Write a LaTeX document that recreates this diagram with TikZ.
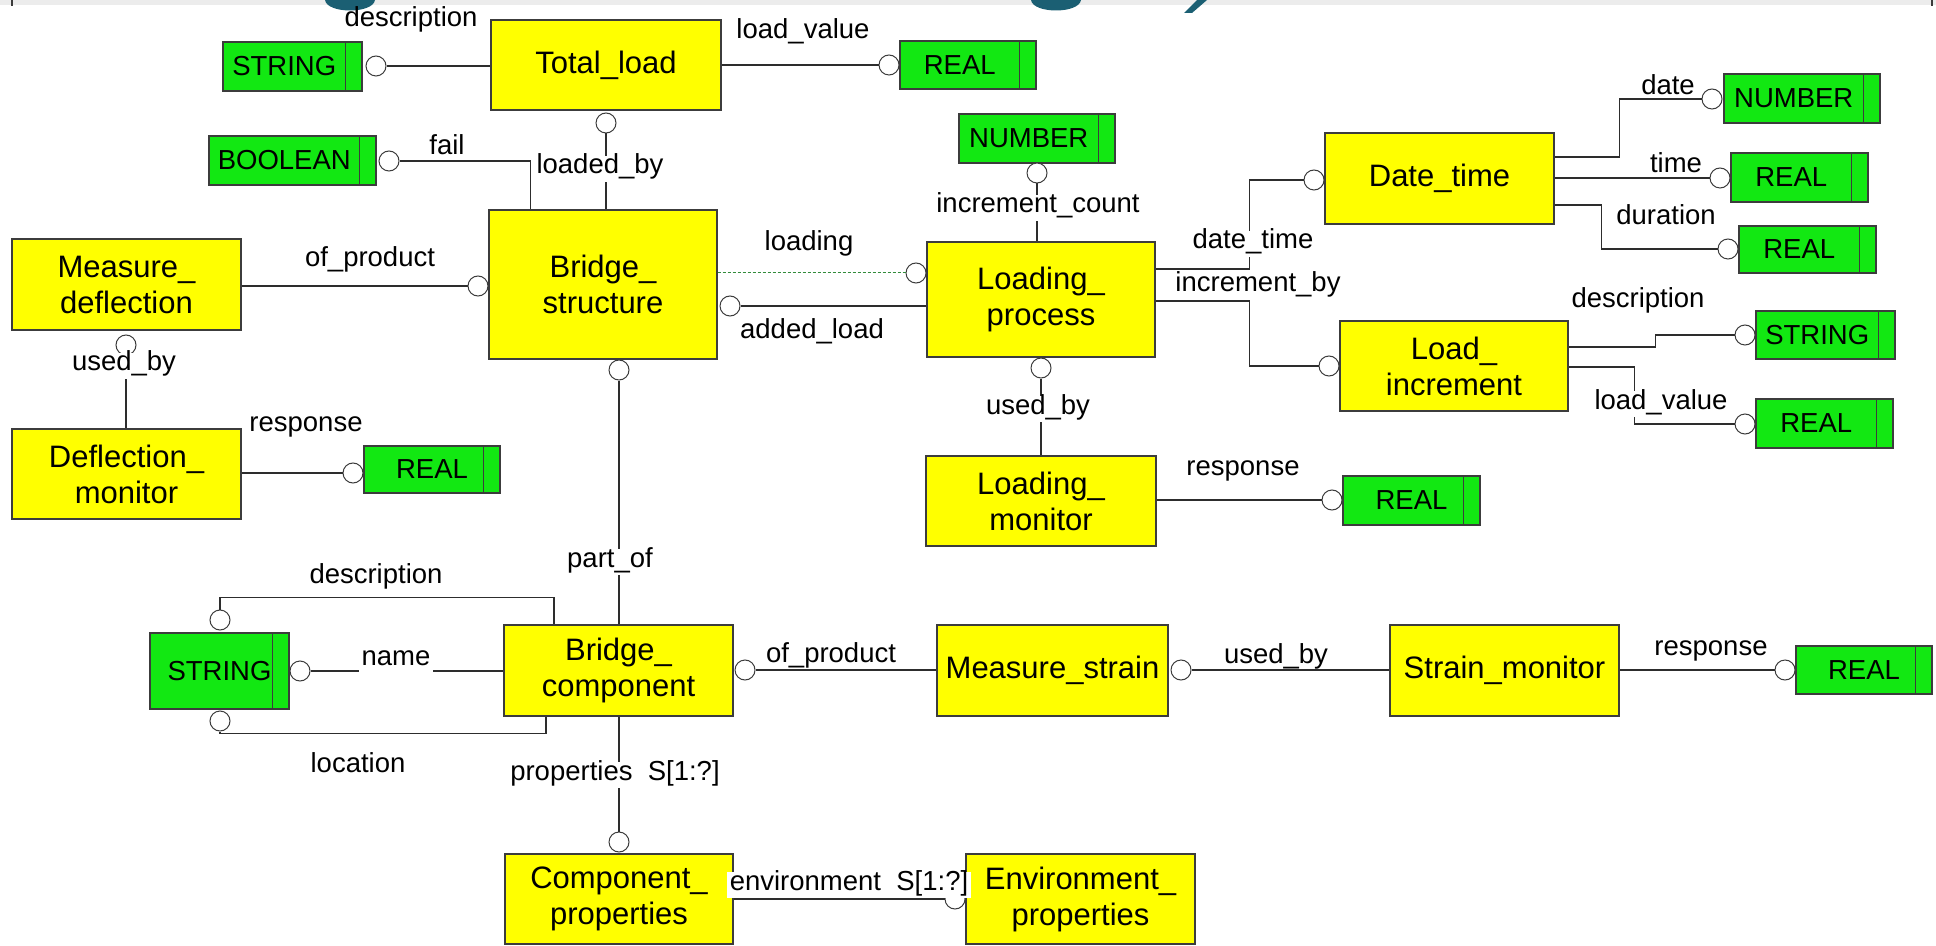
\documentclass[tikz,border=0pt]{standalone}
\usepackage{fontspec}
\setmainfont{Liberation Sans}
\usetikzlibrary{calc}

\definecolor{entfill}{RGB}{255,255,0}
\definecolor{typfill}{RGB}{18,232,18}
\definecolor{edge}{RGB}{60,60,60}
\definecolor{wire}{RGB}{45,45,45}
\definecolor{loadgreen}{RGB}{50,140,60}
\definecolor{band}{RGB}{236,236,236}
\definecolor{logoteal}{RGB}{27,95,115}

\newcommand\entfont{\fontsize{15.5pt}{18pt}\selectfont}
\newcommand\labfont{\fontsize{13.75pt}{16pt}\selectfont}
% shifts a type name into the part left of the divider
\newcommand\tlft[1]{\hspace*{-8.25pt}#1}

\begin{document}
\begin{tikzpicture}[x=0.5pt, y=-0.5pt,
  ent/.style={draw=edge, line width=0.7pt, fill=entfill, inner sep=0pt,
    minimum width=114.5pt, minimum height=45.5pt, align=center, font=\entfont},
  typ/.style={draw=edge, line width=0.7pt, fill=typfill, inner sep=0pt,
    minimum width=68.5pt, minimum height=24.5pt, font=\labfont,
    path picture={\draw[edge, line width=0.7pt]
      ([xshift=-8.25pt]path picture bounding box.north east) --
      ([xshift=-8.25pt]path picture bounding box.south east);}},
  ring/.style={circle, draw=edge, line width=0.5pt, fill=white,
    minimum size=10pt, inner sep=0pt},
  wirestyle/.style={draw=wire, line width=0.6pt},
  loadline/.style={draw=loadgreen, line width=0.5pt, dash pattern=on 1.5pt off 1pt},
  lbl/.style={font=\labfont, anchor=base, inner sep=0pt},
  lblcut/.style={lbl, fill=white, inner xsep=1.5pt, inner ysep=1.5pt,
    text height=0.75em, text depth=0.27em}]

\useasboundingbox (0,0) rectangle (1936,946);

% strip along the top edge
\fill[band] (0,0) rectangle (1936,5);
\fill[logoteal] (325,0) .. controls (327,14) and (373,14) .. (375,0) -- cycle;
\fill[logoteal] (1031,0) .. controls (1033,14) and (1079,14) .. (1081,0) -- cycle;
\fill[logoteal] (1197,0) -- (1207,0) -- (1192,13) -- (1184,13) -- cycle;
\draw[edge, line width=0.8pt] (12,0) -- (12,6);
\draw[edge, line width=0.8pt] (1932,0) -- (1932,6);

% entities
\node[ent, minimum width=115pt, minimum height=45pt] (tl) at (606,65) {Total\_load};
\node[ent, minimum width=114pt, minimum height=74.5pt] (bs) at (603,284.5) {Bridge\_\\structure};
\node[ent] (md) at (126.5,284.5) {Measure\_\\deflection};
\node[ent, minimum width=114pt, minimum height=57.5pt] (lp) at (1041,299.5) {Loading\_\\process};
\node[ent] (dt) at (1439.5,178.5) {Date\_time};
\node[ent, minimum width=114pt, minimum height=45pt] (li) at (1454,366) {Load\_\\increment};
\node[ent, minimum height=45pt] (dm) at (126.5,474) {Deflection\_\\monitor};
\node[ent, minimum width=115pt, minimum height=45pt] (lm) at (1041,501) {Loading\_\\monitor};
\node[ent] (bc) at (618.5,670.5) {Bridge\_\\component};
\node[ent, minimum width=115.5pt] (ms) at (1052.5,670.5) {Measure\_strain};
\node[ent] (sm) at (1504.5,670.5) {Strain\_monitor};
\node[ent, minimum width=114pt, minimum height=45pt] (cp) at (619,899) {Component\_\\properties};
\node[ent, minimum height=45pt] (ep) at (1080.5,899) {Environment\_\\properties};

% simple types
\node[typ, minimum width=69.5pt] (t1) at (292.5,66.5) {\tlft{STRING}};
\node[typ, minimum width=68pt, minimum height=24pt] (t2) at (968,65) {\tlft{REAL}};
\node[typ, minimum width=83.5pt] (t3) at (292.5,160.5) {\tlft{BOOLEAN}};
\node[typ, minimum width=78pt] (t4) at (1037,138.5) {\tlft{NUMBER}};
\node[typ, minimum width=78pt] (t5) at (1802,98.5) {\tlft{NUMBER}};
\node[typ] (t6) at (1799.5,177.5) {\tlft{REAL}};
\node[typ, minimum height=23.5pt] (t7) at (1807.5,249.5) {\tlft{REAL}};
\node[typ, minimum width=69.5pt, minimum height=24pt] (t8) at (1825.5,335) {\tlft{STRING}};
\node[typ] (t9) at (1824.5,423.5) {\tlft{REAL}};
\node[typ, minimum width=68pt, minimum height=23.5pt] (t10) at (432,469.5) {REAL};
\node[typ] (t11) at (1411.5,500.5) {REAL};
\node[typ, minimum width=69.5pt, minimum height=38pt] (t12) at (219.5,671) {STRING};
\node[typ, minimum width=68pt, minimum height=24pt] (t13) at (1864,670) {REAL};

% relationship rings
\node[ring] (c1) at (376,66) {};
\node[ring] (c2) at (889,65) {};
\node[ring] (c3) at (606,123) {};
\node[ring] (c4) at (389,161) {};
\node[ring] (c5) at (478,286) {};
\node[ring] (c6) at (126,345) {};
\node[ring] (c7) at (619,370) {};
\node[ring] (c8) at (916,273) {};
\node[ring] (c9) at (730,306) {};
\node[ring] (c10) at (1037,173) {};
\node[ring] (c11) at (1041,368) {};
\node[ring] (c12) at (1332,500) {};
\node[ring] (c13) at (1314,180) {};
\node[ring] (c14) at (1329,366) {};
\node[ring] (c15) at (1712,99) {};
\node[ring] (c16) at (1720,178) {};
\node[ring] (c17) at (1728,249) {};
\node[ring] (c18) at (1745,335) {};
\node[ring] (c19) at (1745,424) {};
\node[ring] (c20) at (353,473) {};
\node[ring] (c21) at (220,620) {};
\node[ring] (c22) at (300,671) {};
\node[ring] (c23) at (220,721) {};
\node[ring] (c24) at (745,670) {};
\node[ring] (c25) at (1181,670) {};
\node[ring] (c26) at (1785,670) {};
\node[ring] (c27) at (619,842) {};
\node[ring] (c28) at (955,899) {};

% connectors
\path[wirestyle] (c1.east) -- (c1.east -| tl.west);
\path[wirestyle] (tl.east |- c2.west) -- (c2.west);
\path[wirestyle] (c3.south) -- (c3.south |- bs.north);
\path[wirestyle] (c4.east) -| ([xshift=21pt]bs.north west);
\path[wirestyle] (md.east |- c5.west) -- (c5.west);
\path[wirestyle] (c6.south) -- (c6.south |- dm.north);
\path[wirestyle] (c7.south) -- (c7.south |- bc.north);
\path[loadline] (bs.east |- c8.west) -- (c8.west);
\path[wirestyle] (c9.east) -- (c9.east -| lp.west);
\path[wirestyle] (c10.south) -- (c10.south |- lp.north);
\path[wirestyle] (c11.south) -- (c11.south |- lm.north);
\path[wirestyle] (lm.east |- c12.west) -- (c12.west);
\path[wirestyle] ([yshift=15.25pt]lp.east) -- ++(94,0) |- (c13.west);
\path[wirestyle] ([yshift=-0.75pt]lp.east) -- ++(94,0) |- (c14.west);
\path[wirestyle] ([yshift=10.75pt]dt.east) -- ++(65,0) |- (c15.west);
\path[wirestyle] (dt.east |- c16.west) -- (c16.west);
\path[wirestyle] ([yshift=-13.25pt]dt.east) -- ++(47,0) |- (c17.west);
\path[wirestyle] ([yshift=9.5pt]li.east) -- ++(87,0) |- (c18.west);
\path[wirestyle] ([yshift=-0.5pt]li.east) -- ++(66,0) |- (c19.west);
\path[wirestyle] (dm.east |- c20.west) -- (c20.west);
\path[wirestyle] ([xshift=-32.25pt]bc.north) -- ++(0,-27) -| (c21.north);
\path[wirestyle] (c22.east) -- (c22.east -| bc.west);
\path[wirestyle] ([xshift=-36.25pt]bc.south) -- ++(0,17) -| (c23.south);
\path[wirestyle] (c24.east) -- (c24.east -| ms.west);
\path[wirestyle] (c25.east) -- (c25.east -| sm.west);
\path[wirestyle] (sm.east |- c26.west) -- (c26.west);
\path[wirestyle] (c27.north |- bc.south) -- (c27.north);
\path[wirestyle] (cp.east |- c28.west) -- (c28.west);

% role names
\node[lbl] (l1) at (411,27) {description};
\node[lbl] (l2) at (803,39) {load\_value};
\node[lbl] (l3) at (447,155) {fail};
\node[lblcut] (l4) at (600,174) {loaded\_by};
\node[lbl] (l5) at (370,267) {of\_product};
\node[lblcut] (l6) at (124,371) {used\_by};
\node[lbl] (l7) at (809,251) {loading};
\node[lbl] (l8) at (812,339) {added\_load};
\node[lblcut] (l9) at (1038,213) {increment\_count};
\node[lblcut] (l10) at (1038,414) {used\_by};
\node[lbl] (l11) at (1243,475) {response};
\node[lblcut] (l12) at (1253,249) {date\_time};
\node[lblcut] (l13) at (1258,292) {increment\_by};
\node[lbl] (l14) at (1668,95) {date};
\node[lbl] (l15) at (1676,173) {time};
\node[lbl] (l16) at (1666,225) {duration};
\node[lbl] (l17) at (1638,307) {description};
\node[lblcut] (l18) at (1661,409) {load\_value};
\node[lbl] (l19) at (306,431) {response};
\node[lblcut] (l20) at (610,567) {part\_of};
\node[lbl] (l21) at (376,583) {description};
\node[lblcut] (l22) at (396,665) {name};
\node[lbl] (l23) at (358,772) {location};
\node[lblcut] (l24) at (615,780) {properties\ \ S[1:?]};
\node[lbl] (l25) at (831,662) {of\_product};
\node[lbl] (l26) at (1276,663) {used\_by};
\node[lbl] (l27) at (1711,655) {response};
\node[lblcut] (l28) at (849,890) {environment\ \ S[1:?]};

\end{tikzpicture}
\end{document}
